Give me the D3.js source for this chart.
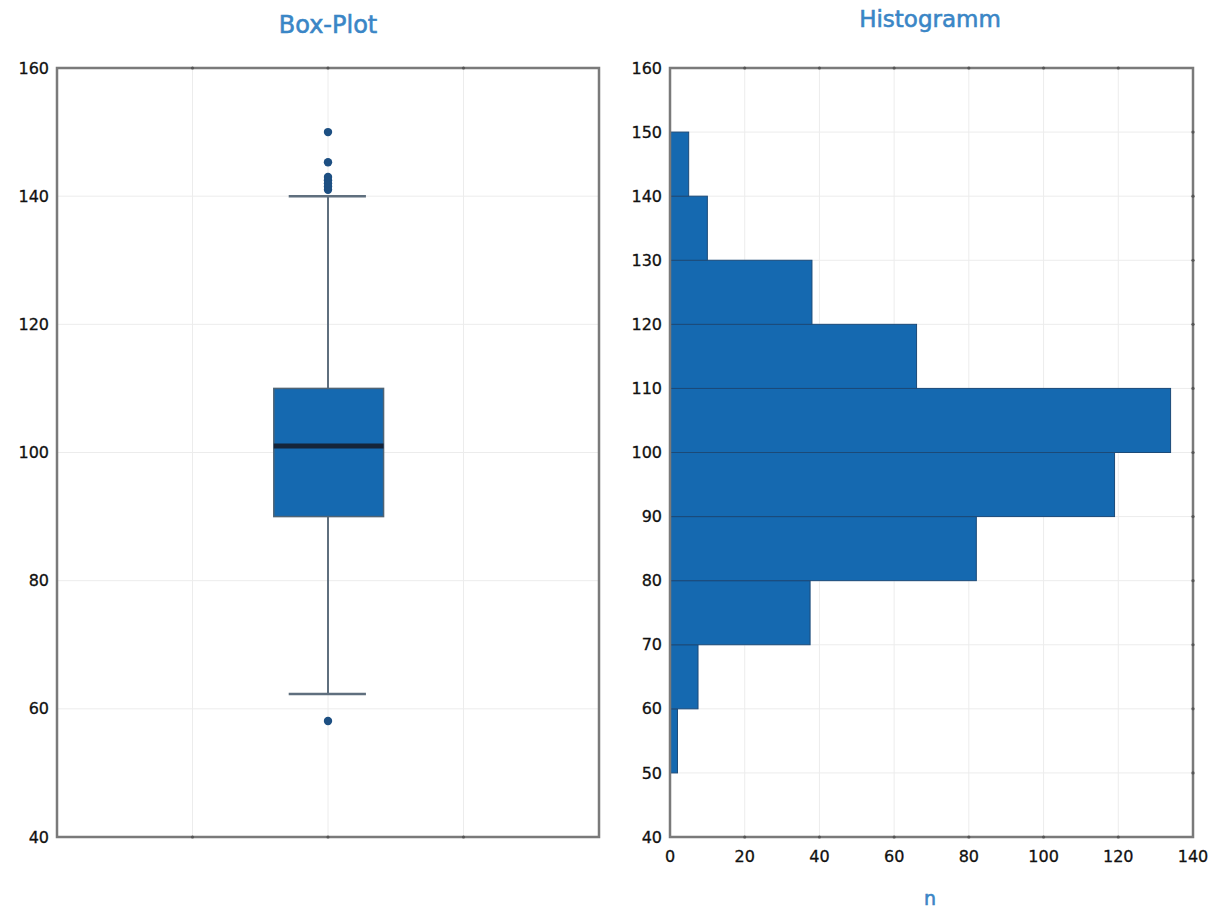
<!DOCTYPE html>
<html>
<head>
<meta charset="utf-8">
<script src="https://cdn.jsdelivr.net/npm/d3@7"></script>
<style>
  body { margin: 0; background: #fff; }
  svg text { font-family: "DejaVu Sans", Verdana, sans-serif; }
</style>
</head>
<body>
<div id="chart"></div>
<script>
// box plot summary
const boxStats = { q1: 90, median: 101, q3: 110, whiskerLow: 62.3, whiskerHigh: 140 };
const outliers = [58.1, 141, 141.5, 142, 142.5, 143, 145.3, 150];

// histogram bins of width 10
const binStarts = [50, 60, 70, 80, 90, 100, 110, 120, 130, 140];
const binCounts = [2, 7.5, 37.5, 82, 119, 134, 66, 38, 10, 5];

const yTicksBox = [40, 60, 80, 100, 120, 140, 160];
const yTicksHist = [40, 50, 60, 70, 80, 90, 100, 110, 120, 130, 140, 150, 160];
const xTicksHist = [0, 20, 40, 60, 80, 100, 120, 140];

function main() {
    const width = 1214, height = 908;
    const top = 68, bottom = 837;

    const svg = d3.select("#chart").append("svg")
        .attr("width", width)
        .attr("height", height);

    const frameColor = "#7a7a7a";
    const gridColor = "#ececec";
    const blue = "#1569b0";
    const titleColor = "#3a86c6";

    // ---------- Box plot ----------
    const bx = d3.scaleLinear().domain([0, 4]).range([57, 599]);
    const by = d3.scaleLinear().domain([40, 160]).range([bottom, top]);

    const gb = svg.append("g");

    gb.selectAll("line.hgrid").data(yTicksBox.slice(1, -1)).enter().append("line")
        .attr("x1", bx(0)).attr("x2", bx(4))
        .attr("y1", d => by(d)).attr("y2", d => by(d))
        .attr("stroke", gridColor).attr("stroke-width", 1);
    gb.selectAll("line.vgrid").data([1, 2, 3]).enter().append("line")
        .attr("x1", d => bx(d)).attr("x2", d => bx(d))
        .attr("y1", top).attr("y2", bottom)
        .attr("stroke", gridColor).attr("stroke-width", 1);

    // whisker stem
    gb.append("line")
        .attr("x1", bx(2)).attr("x2", bx(2))
        .attr("y1", by(boxStats.whiskerHigh)).attr("y2", by(boxStats.whiskerLow))
        .attr("stroke", "#5f6f7e").attr("stroke-width", 2);
    // caps
    gb.selectAll("line.cap").data([boxStats.whiskerLow, boxStats.whiskerHigh]).enter().append("line")
        .attr("x1", bx(1.71)).attr("x2", bx(2.28))
        .attr("y1", d => by(d)).attr("y2", d => by(d))
        .attr("stroke", "#5f6f7e").attr("stroke-width", 2.5);
    // box
    gb.append("rect")
        .attr("x", bx(1.6)).attr("width", bx(2.41) - bx(1.6))
        .attr("y", by(boxStats.q3)).attr("height", by(boxStats.q1) - by(boxStats.q3))
        .attr("fill", blue).attr("stroke", "#4f6475").attr("stroke-width", 1.5);
    gb.append("line")
        .attr("x1", bx(1.6)).attr("x2", bx(2.41))
        .attr("y1", by(boxStats.median)).attr("y2", by(boxStats.median))
        .attr("stroke", "#15253a").attr("stroke-width", 5);
    // outliers
    gb.selectAll("circle").data(outliers).enter().append("circle")
        .attr("cx", bx(2)).attr("cy", d => by(d)).attr("r", 4.2)
        .attr("fill", "#1d4f82");

    // frame + ticks
    gb.append("rect")
        .attr("x", bx(0)).attr("y", top)
        .attr("width", bx(4) - bx(0)).attr("height", bottom - top)
        .attr("fill", "none").attr("stroke", frameColor).attr("stroke-width", 2.5);
    gb.selectAll("text.ytick").data(yTicksBox).enter().append("text")
        .attr("x", bx(0) - 8).attr("y", d => by(d)).attr("dy", "0.35em")
        .attr("text-anchor", "end").attr("font-size", 16).attr("fill", "#111")
        .attr("stroke", "#111").attr("stroke-width", 0.3)
        .text(d => d);
    gb.selectAll("circle.tickdot").data([1, 2, 3]).enter().append("circle")
        .attr("cx", d => bx(d)).attr("cy", top).attr("r", 1.6).attr("fill", "#555");
    gb.selectAll("circle.tickdot2").data([1, 2, 3]).enter().append("circle")
        .attr("cx", d => bx(d)).attr("cy", bottom).attr("r", 1.6).attr("fill", "#555");

    svg.append("text")
        .attr("x", bx(2)).attr("y", 33)
        .attr("text-anchor", "middle").attr("font-size", 24)
        .attr("fill", titleColor).attr("stroke", titleColor).attr("stroke-width", 0.6)
        .text("Box-Plot");

    // ---------- Histogram ----------
    const hx = d3.scaleLinear().domain([0, 140]).range([670, 1193]);
    const hy = d3.scaleLinear().domain([40, 160]).range([bottom, top]);

    const gh = svg.append("g");

    gh.selectAll("line.hgrid").data(yTicksHist.slice(1, -1)).enter().append("line")
        .attr("x1", hx(0)).attr("x2", hx(140))
        .attr("y1", d => hy(d)).attr("y2", d => hy(d))
        .attr("stroke", gridColor).attr("stroke-width", 1);
    gh.selectAll("line.vgrid").data(xTicksHist.slice(1, -1)).enter().append("line")
        .attr("x1", d => hx(d)).attr("x2", d => hx(d))
        .attr("y1", top).attr("y2", bottom)
        .attr("stroke", gridColor).attr("stroke-width", 1);

    gh.selectAll("rect.bar").data(binStarts).enter().append("rect")
        .attr("x", hx(0))
        .attr("y", d => hy(d + 10))
        .attr("width", (d, i) => hx(binCounts[i]) - hx(0))
        .attr("height", d => hy(d) - hy(d + 10))
        .attr("fill", blue).attr("stroke", "#1b4a78").attr("stroke-width", 1);

    gh.append("rect")
        .attr("x", hx(0)).attr("y", top)
        .attr("width", hx(140) - hx(0)).attr("height", bottom - top)
        .attr("fill", "none").attr("stroke", frameColor).attr("stroke-width", 2.5);

    gh.selectAll("text.ytick").data(yTicksHist).enter().append("text")
        .attr("x", hx(0) - 8).attr("y", d => hy(d)).attr("dy", "0.35em")
        .attr("text-anchor", "end").attr("font-size", 16).attr("fill", "#111")
        .attr("stroke", "#111").attr("stroke-width", 0.3)
        .text(d => d);
    gh.selectAll("text.xtick").data(xTicksHist).enter().append("text")
        .attr("x", d => hx(d)).attr("y", bottom + 25)
        .attr("text-anchor", "middle").attr("font-size", 16).attr("fill", "#111")
        .attr("stroke", "#111").attr("stroke-width", 0.3)
        .text(d => d);
    gh.selectAll("circle.td").data(xTicksHist.slice(1, -1)).enter().append("circle")
        .attr("cx", d => hx(d)).attr("cy", top).attr("r", 1.6).attr("fill", "#555");
    gh.selectAll("circle.tb").data(xTicksHist.slice(1, -1)).enter().append("circle")
        .attr("cx", d => hx(d)).attr("cy", bottom).attr("r", 1.6).attr("fill", "#555");
    gh.selectAll("circle.tr").data(yTicksHist.slice(1, -1)).enter().append("circle")
        .attr("cx", hx(140)).attr("cy", d => hy(d)).attr("r", 1.6).attr("fill", "#555");

    svg.append("text")
        .attr("x", 930).attr("y", 27)
        .attr("text-anchor", "middle").attr("font-size", 23)
        .attr("fill", titleColor).attr("stroke", titleColor).attr("stroke-width", 0.6)
        .text("Histogramm");

    svg.append("text")
        .attr("x", 930).attr("y", 905)
        .attr("text-anchor", "middle").attr("font-size", 19)
        .attr("fill", titleColor).attr("stroke", titleColor).attr("stroke-width", 0.6)
        .text("n");
}
main();
</script>
</body>
</html>
